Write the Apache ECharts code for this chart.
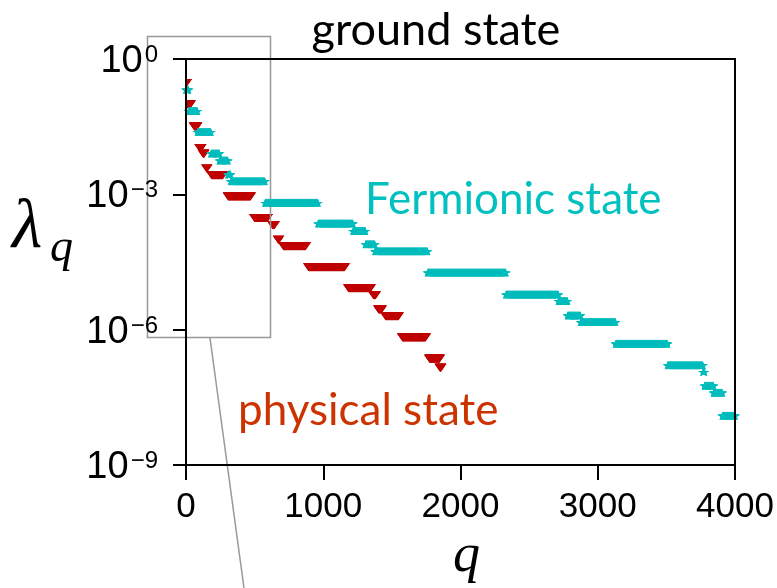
<!DOCTYPE html>
<html>
<head>
<meta charset="utf-8">
<title>ground state</title>
<script src="https://cdn.jsdelivr.net/npm/echarts@6/dist/echarts.min.js"></script>
<style>
  html, body { margin: 0; padding: 0; background: #fff; }
  #chart { width: 777px; height: 588px; }
</style>
</head>
<body>
<div id="chart"></div>
<script>
// Eigenvalue spectrum lambda_q, stored as plateaus of (nearly) degenerate levels:
// each plateau runs from index qStart to qEnd with a common value.

// physical state
const physQStart = [0, 5, 60, 100, 124, 150, 186, 307, 499, 630, 672, 710, 893, 1184, 1366, 1403, 1454, 1577, 1774, 1850];
const physQEnd   = [4, 33, 79, 110, 132, 153, 268, 470, 594, 645, 676, 871, 1155, 1344, 1381, 1424, 1548, 1745, 1847, 1858];
const physValue  = [0.294, 0.0993, 0.032, 0.0106, 0.0079, 0.00372, 0.00264, 8.95e-4, 2.97e-4, 2.08e-4,
                    9.82e-5, 7.11e-5, 2.43e-5, 8.32e-6, 5.82e-6, 2.79e-6, 1.99e-6, 6.67e-7, 2.27e-7, 1.44e-7];

// Fermionic state
const fermQStart = [0, 19, 84, 182, 244, 306, 326, 576, 962, 1217, 1308, 1377, 1760, 2331, 2714, 2780, 2875, 3130, 3509, 3767, 3778, 3844, 3908];
const fermQEnd   = [18, 83, 181, 243, 305, 325, 575, 961, 1216, 1307, 1376, 1759, 2330, 2713, 2779, 2874, 3129, 3508, 3766, 3777, 3843, 3907, 4000];
const fermValue  = [0.2084, 0.0703, 0.02415, 0.00805, 0.0056, 0.00275, 0.00195, 6.49e-4, 2.25e-4, 1.54e-4,
                    7.8e-5, 5.45e-5, 1.84e-5, 6.0e-6, 4.31e-6, 2.07e-6, 1.47e-6, 4.89e-7, 1.63e-7, 1.16e-7,
                    5.71e-8, 4.0e-8, 1.24e-8];

// axis ticks
const xTicks = [0, 1000, 2000, 3000, 4000];
const yTicks = [1e-9, 1e-6, 1e-3, 1];

function expand(qs, qe, vals) {
  const out = [];
  for (let i = 0; i < qs.length; i++) {
    for (let q = qs[i]; q <= qe[i]; q++) out.push([q, vals[i]]);
  }
  return out;
}

const TRIANGLE_DOWN = 'path://M0,0 L12,0 L6,9 Z';
const STAR = 'path://M50,0 L61,35 L98,35 L68,57 L79,91 L50,70 L21,91 L32,57 L2,35 L39,35 Z';

const chart = echarts.init(document.getElementById('chart'), null, { renderer: 'canvas' });

const axisFont = '"Liberation Sans", Arial, Helvetica, sans-serif';
const textFont = 'Lato, "Open Sans", sans-serif';
const mathFont = '"Liberation Serif", "DejaVu Serif", serif';

chart.setOption({
  animation: false,
  backgroundColor: '#ffffff',
  grid: {
    left: 186, right: 42, top: 59, bottom: 123, z: 3,
    show: true, borderColor: '#000', borderWidth: 2, backgroundColor: 'transparent'
  },
  xAxis: {
    type: 'value', min: 0, max: 4000, interval: 1000, z: 3,
    axisLine: { show: true, lineStyle: { color: '#000', width: 2 } },
    axisTick: { show: true, length: 15, lineStyle: { color: '#000', width: 2 } },
    axisLabel: {
      color: '#000', fontSize: 35, fontFamily: axisFont, margin: 25,
      customValues: xTicks,
      formatter: function (v) { return String(v); }
    },
    splitLine: { show: false }
  },
  yAxis: {
    type: 'log', logBase: 10, min: 1e-9, max: 1, z: 3,
    axisLine: { show: true, lineStyle: { color: '#000', width: 2 } },
    axisTick: { show: true, length: 13, lineStyle: { color: '#000', width: 2 }, customValues: yTicks },
    axisLabel: {
      color: '#000', margin: 28, padding: [6, 0, 0, 0],
      customValues: yTicks,
      formatter: function (v) {
        const e = Math.round(Math.log10(v));
        const ex = e < 0 ? '\u2212' + (-e) : String(e);
        return '{b|10}{s|' + ex + '}';
      },
      rich: {
        b: { fontSize: 38, fontFamily: axisFont, color: '#000', lineHeight: 37, verticalAlign: 'bottom' },
        s: { fontSize: 24, fontFamily: axisFont, color: '#000', lineHeight: 22, verticalAlign: 'top', padding: [0, 0, 0, 2] }
      }
    },
    splitLine: { show: false }
  },
  series: [
    {
      name: 'physical state', type: 'scatter',
      data: expand(physQStart, physQEnd, physValue),
      symbol: TRIANGLE_DOWN, symbolSize: [11, 8],
      itemStyle: { color: '#C00000' },
      clip: true, z: 1
    },
    {
      name: 'Fermionic state', type: 'scatter',
      data: expand(fermQStart, fermQEnd, fermValue),
      symbol: STAR, symbolSize: [10, 8],
      itemStyle: { color: '#00BEBE' },
      clip: true, z: 1.5
    }
  ],
  graphic: [
    // keep markers inside the left edge of the plotting area
    { type: 'rect', z: 2, shape: { x: 160, y: 61, width: 25, height: 125 }, style: { fill: '#fff' } },
    { type: 'text', x: 436, y: 8, style: { text: 'ground state', font: '45px ' + textFont, fill: '#000', align: 'center' } },
    { type: 'text', x: 365, y: 178, style: { text: 'Fermionic state', font: '44px ' + textFont, fill: '#00C0C0' } },
    { type: 'text', x: 238, y: 389, style: { text: 'physical state', font: '44px ' + textFont, fill: '#CC3300' } },
    { type: 'text', x: 12, y: 194, style: { text: '\u03BB', font: 'italic 70px ' + mathFont, fill: '#000' } },
    { type: 'text', x: 50, y: 226, style: { text: 'q', font: 'italic 46px ' + mathFont, fill: '#000' } },
    { type: 'text', x: 453, y: 530, style: { text: 'q', font: 'italic 54px ' + mathFont, fill: '#000' } },
    { type: 'rect', shape: { x: 147.5, y: 36.5, width: 123, height: 301 }, style: { stroke: '#999', fill: null, lineWidth: 1.5 }, z: 10 },
    { type: 'line', shape: { x1: 210, y1: 338, x2: 244, y2: 588 }, style: { stroke: '#999', lineWidth: 1.5 }, z: 10 }
  ]
});
</script>
</body>
</html>
